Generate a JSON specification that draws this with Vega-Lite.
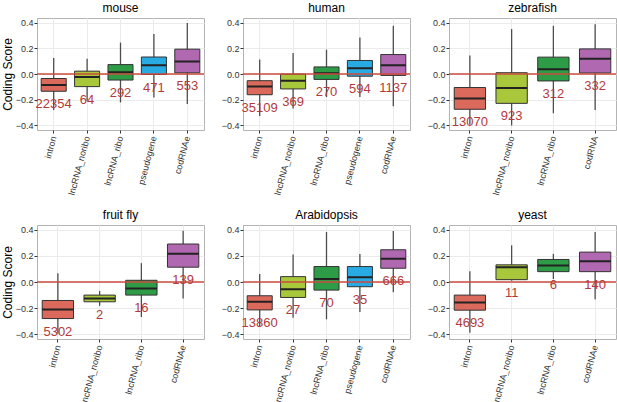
{
  "$schema": "https://vega.github.io/schema/vega-lite/v6.json",
  "description": "Coding score by transcript type, six species",
  "padding": {"left": 0, "top": 1, "right": 0, "bottom": 0},
  "background": "white",
  "config": {
    "font": "Liberation Sans",
    "view": {"stroke": "#b3b3b3", "strokeWidth": 1},
    "title": {"fontSize": 12, "fontWeight": "normal", "color": "black", "offset": 3},
    "axis": {
      "labelFontSize": 9,
      "labelColor": "#333333",
      "tickColor": "#333333",
      "tickSize": 3,
      "domain": false,
      "gridColor": "#ebebeb",
      "titleFontSize": 12,
      "titleFontWeight": "normal",
      "titleColor": "black"
    },
    "axisX": {"labelAngle": -75, "labelAlign": "right", "labelBaseline": "middle", "labelPadding": 3},
    "axisY": {"labelPadding": 1, "titlePadding": 1, "labelOverlap": false}
  },
  "data": {
    "values": [
      {"species": "mouse", "type": "intron", "lo": -0.28, "q1": -0.134, "med": -0.086, "q3": -0.035, "hi": 0.124, "n": "22354"},
      {"species": "mouse", "type": "lncRNA_noribo", "lo": -0.208, "q1": -0.098, "med": -0.024, "q3": 0.022, "hi": 0.119, "n": "64"},
      {"species": "mouse", "type": "lncRNA_ribo", "lo": -0.221, "q1": -0.047, "med": 0.014, "q3": 0.073, "hi": 0.244, "n": "292"},
      {"species": "mouse", "type": "pseudogene", "lo": -0.183, "q1": -0.004, "med": 0.068, "q3": 0.132, "hi": 0.311, "n": "471"},
      {"species": "mouse", "type": "codRNAe", "lo": -0.234, "q1": 0.009, "med": 0.098, "q3": 0.193, "hi": 0.397, "n": "553"},
      {"species": "human", "type": "intron", "lo": -0.326, "q1": -0.161, "med": -0.098, "q3": -0.052, "hi": 0.113, "n": "35109"},
      {"species": "human", "type": "lncRNA_noribo", "lo": -0.268, "q1": -0.116, "med": -0.052, "q3": -0.001, "hi": 0.164, "n": "369"},
      {"species": "human", "type": "lncRNA_ribo", "lo": -0.179, "q1": -0.042, "med": 0.006, "q3": 0.055, "hi": 0.189, "n": "270"},
      {"species": "human", "type": "pseudogene", "lo": -0.179, "q1": -0.017, "med": 0.044, "q3": 0.105, "hi": 0.283, "n": "594"},
      {"species": "human", "type": "codRNAe", "lo": -0.25, "q1": -0.011, "med": 0.067, "q3": 0.151, "hi": 0.375, "n": "1137"},
      {"species": "zebrafish", "type": "intron", "lo": -0.395, "q1": -0.274, "med": -0.19, "q3": -0.105, "hi": 0.144, "n": "13070"},
      {"species": "zebrafish", "type": "lncRNA_noribo", "lo": -0.4, "q1": -0.228, "med": -0.108, "q3": 0.01, "hi": 0.349, "n": "923"},
      {"species": "zebrafish", "type": "lncRNA_ribo", "lo": -0.305, "q1": -0.054, "med": 0.036, "q3": 0.131, "hi": 0.374, "n": "312"},
      {"species": "zebrafish", "type": "codRNA", "lo": -0.279, "q1": 0.008, "med": 0.118, "q3": 0.195, "hi": 0.387, "n": "332"},
      {"species": "fruit fly", "type": "intron", "lo": -0.395, "q1": -0.279, "med": -0.21, "q3": -0.141, "hi": 0.067, "n": "5302"},
      {"species": "fruit fly", "type": "lncRNA_noribo", "lo": -0.182, "q1": -0.151, "med": -0.126, "q3": -0.1, "hi": -0.069, "n": "2"},
      {"species": "fruit fly", "type": "lncRNA_ribo", "lo": -0.267, "q1": -0.1, "med": -0.049, "q3": 0.013, "hi": 0.144, "n": "16"},
      {"species": "fruit fly", "type": "codRNAe", "lo": -0.126, "q1": 0.113, "med": 0.215, "q3": 0.29, "hi": 0.392, "n": "139"},
      {"species": "Arabidopsis", "type": "intron", "lo": -0.336, "q1": -0.213, "med": -0.151, "q3": -0.105, "hi": 0.062, "n": "13860"},
      {"species": "Arabidopsis", "type": "lncRNA_noribo", "lo": -0.272, "q1": -0.118, "med": -0.056, "q3": 0.041, "hi": 0.21, "n": "27"},
      {"species": "Arabidopsis", "type": "lncRNA_ribo", "lo": -0.285, "q1": -0.062, "med": 0.023, "q3": 0.118, "hi": 0.382, "n": "70"},
      {"species": "Arabidopsis", "type": "pseudogene", "lo": -0.228, "q1": -0.036, "med": 0.036, "q3": 0.118, "hi": 0.213, "n": "35"},
      {"species": "Arabidopsis", "type": "codRNAe", "lo": -0.079, "q1": 0.105, "med": 0.177, "q3": 0.246, "hi": 0.39, "n": "666"},
      {"species": "yeast", "type": "intron", "lo": -0.387, "q1": -0.215, "med": -0.156, "q3": -0.1, "hi": 0.082, "n": "4693"},
      {"species": "yeast", "type": "lncRNA_noribo", "lo": 0.01, "q1": 0.018, "med": 0.113, "q3": 0.131, "hi": 0.28, "n": "11"},
      {"species": "yeast", "type": "lncRNA_ribo", "lo": 0.023, "q1": 0.079, "med": 0.126, "q3": 0.172, "hi": 0.215, "n": "6"},
      {"species": "yeast", "type": "codRNAe", "lo": -0.131, "q1": 0.079, "med": 0.159, "q3": 0.228, "hi": 0.382, "n": "140"}
    ]
  },
  "columns": 3,
  "bounds": "flush",
  "spacing": {"column": 39, "row": 95},
  "concat": [
    {
      "title": "mouse",
      "width": 167,
      "height": 112,
      "transform": [{"filter": "datum.species == 'mouse'"}],
      "layer": [
        {"mark": {"type": "rule", "color": "#4d4d4d", "strokeWidth": 1.3},
         "encoding": {"x": {"field": "type", "type": "nominal", "sort": null, "title": null, "axis": {"grid": true}},
                      "y": {"field": "lo", "type": "quantitative", "scale": {"domain": [-0.435, 0.435], "nice": false}, "axis": {"values": [-0.4, -0.2, 0, 0.2, 0.4], "format": ".1f", "title": "Coding Score"}},
                      "y2": {"field": "hi"}}},
        {"mark": {"type": "bar", "stroke": "#333333", "strokeWidth": 1, "width": {"band": 0.75}},
         "encoding": {"x": {"field": "type", "type": "nominal", "sort": null, "title": null, "axis": {"grid": true}},
                      "y": {"field": "q1", "type": "quantitative", "scale": {"domain": [-0.435, 0.435], "nice": false}, "axis": {"values": [-0.4, -0.2, 0, 0.2, 0.4], "format": ".1f", "title": "Coding Score"}}, "y2": {"field": "q3"},
                      "color": {"field": "type", "type": "nominal", "legend": null, "scale": {"domain": ["intron", "lncRNA_noribo", "lncRNA_ribo", "pseudogene", "codRNAe", "codRNA"], "range": ["#dc6a5c", "#a9c73a", "#2e9c47", "#2aaae2", "#b069b0", "#b069b0"]}}}},
        {"mark": {"type": "bar", "stroke": "#222222", "strokeWidth": 2, "width": {"band": 0.75}},
         "encoding": {"x": {"field": "type", "type": "nominal", "sort": null, "title": null, "axis": {"grid": true}},
                      "y": {"field": "med", "type": "quantitative", "scale": {"domain": [-0.435, 0.435], "nice": false}, "axis": {"values": [-0.4, -0.2, 0, 0.2, 0.4], "format": ".1f", "title": "Coding Score"}}, "y2": {"field": "med"}}},
        {"data": {"values": [{}]}, "mark": {"type": "rule", "color": "#cc4b3c", "strokeWidth": 1.3},
         "encoding": {"y": {"datum": 0, "type": "quantitative", "scale": {"domain": [-0.435, 0.435], "nice": false}, "axis": {"values": [-0.4, -0.2, 0, 0.2, 0.4], "format": ".1f", "title": "Coding Score"}}}},
        {"mark": {"type": "text", "color": "#b23a3a", "fontSize": 13, "baseline": "middle", "dy": 13},
         "encoding": {"x": {"field": "type", "type": "nominal", "sort": null, "title": null, "axis": {"grid": true}},
                      "y": {"field": "q1", "type": "quantitative", "scale": {"domain": [-0.435, 0.435], "nice": false}, "axis": {"values": [-0.4, -0.2, 0, 0.2, 0.4], "format": ".1f", "title": "Coding Score"}}, "text": {"field": "n"}}}
      ]
    },
    {
      "title": "human",
      "width": 167,
      "height": 112,
      "transform": [{"filter": "datum.species == 'human'"}],
      "layer": [
        {"mark": {"type": "rule", "color": "#4d4d4d", "strokeWidth": 1.3},
         "encoding": {"x": {"field": "type", "type": "nominal", "sort": null, "title": null, "axis": {"grid": true}},
                      "y": {"field": "lo", "type": "quantitative", "scale": {"domain": [-0.435, 0.435], "nice": false}, "axis": {"values": [-0.4, -0.2, 0, 0.2, 0.4], "format": ".1f", "title": null}},
                      "y2": {"field": "hi"}}},
        {"mark": {"type": "bar", "stroke": "#333333", "strokeWidth": 1, "width": {"band": 0.75}},
         "encoding": {"x": {"field": "type", "type": "nominal", "sort": null, "title": null, "axis": {"grid": true}},
                      "y": {"field": "q1", "type": "quantitative", "scale": {"domain": [-0.435, 0.435], "nice": false}, "axis": {"values": [-0.4, -0.2, 0, 0.2, 0.4], "format": ".1f", "title": null}}, "y2": {"field": "q3"},
                      "color": {"field": "type", "type": "nominal", "legend": null, "scale": {"domain": ["intron", "lncRNA_noribo", "lncRNA_ribo", "pseudogene", "codRNAe", "codRNA"], "range": ["#dc6a5c", "#a9c73a", "#2e9c47", "#2aaae2", "#b069b0", "#b069b0"]}}}},
        {"mark": {"type": "bar", "stroke": "#222222", "strokeWidth": 2, "width": {"band": 0.75}},
         "encoding": {"x": {"field": "type", "type": "nominal", "sort": null, "title": null, "axis": {"grid": true}},
                      "y": {"field": "med", "type": "quantitative", "scale": {"domain": [-0.435, 0.435], "nice": false}, "axis": {"values": [-0.4, -0.2, 0, 0.2, 0.4], "format": ".1f", "title": null}}, "y2": {"field": "med"}}},
        {"data": {"values": [{}]}, "mark": {"type": "rule", "color": "#cc4b3c", "strokeWidth": 1.3},
         "encoding": {"y": {"datum": 0, "type": "quantitative", "scale": {"domain": [-0.435, 0.435], "nice": false}, "axis": {"values": [-0.4, -0.2, 0, 0.2, 0.4], "format": ".1f", "title": null}}}},
        {"mark": {"type": "text", "color": "#b23a3a", "fontSize": 13, "baseline": "middle", "dy": 13},
         "encoding": {"x": {"field": "type", "type": "nominal", "sort": null, "title": null, "axis": {"grid": true}},
                      "y": {"field": "q1", "type": "quantitative", "scale": {"domain": [-0.435, 0.435], "nice": false}, "axis": {"values": [-0.4, -0.2, 0, 0.2, 0.4], "format": ".1f", "title": null}}, "text": {"field": "n"}}}
      ]
    },
    {
      "title": "zebrafish",
      "width": 167,
      "height": 112,
      "transform": [{"filter": "datum.species == 'zebrafish'"}],
      "layer": [
        {"mark": {"type": "rule", "color": "#4d4d4d", "strokeWidth": 1.3},
         "encoding": {"x": {"field": "type", "type": "nominal", "sort": null, "title": null, "axis": {"grid": true}},
                      "y": {"field": "lo", "type": "quantitative", "scale": {"domain": [-0.435, 0.435], "nice": false}, "axis": {"values": [-0.4, -0.2, 0, 0.2, 0.4], "format": ".1f", "title": null}},
                      "y2": {"field": "hi"}}},
        {"mark": {"type": "bar", "stroke": "#333333", "strokeWidth": 1, "width": {"band": 0.75}},
         "encoding": {"x": {"field": "type", "type": "nominal", "sort": null, "title": null, "axis": {"grid": true}},
                      "y": {"field": "q1", "type": "quantitative", "scale": {"domain": [-0.435, 0.435], "nice": false}, "axis": {"values": [-0.4, -0.2, 0, 0.2, 0.4], "format": ".1f", "title": null}}, "y2": {"field": "q3"},
                      "color": {"field": "type", "type": "nominal", "legend": null, "scale": {"domain": ["intron", "lncRNA_noribo", "lncRNA_ribo", "pseudogene", "codRNAe", "codRNA"], "range": ["#dc6a5c", "#a9c73a", "#2e9c47", "#2aaae2", "#b069b0", "#b069b0"]}}}},
        {"mark": {"type": "bar", "stroke": "#222222", "strokeWidth": 2, "width": {"band": 0.75}},
         "encoding": {"x": {"field": "type", "type": "nominal", "sort": null, "title": null, "axis": {"grid": true}},
                      "y": {"field": "med", "type": "quantitative", "scale": {"domain": [-0.435, 0.435], "nice": false}, "axis": {"values": [-0.4, -0.2, 0, 0.2, 0.4], "format": ".1f", "title": null}}, "y2": {"field": "med"}}},
        {"data": {"values": [{}]}, "mark": {"type": "rule", "color": "#cc4b3c", "strokeWidth": 1.3},
         "encoding": {"y": {"datum": 0, "type": "quantitative", "scale": {"domain": [-0.435, 0.435], "nice": false}, "axis": {"values": [-0.4, -0.2, 0, 0.2, 0.4], "format": ".1f", "title": null}}}},
        {"mark": {"type": "text", "color": "#b23a3a", "fontSize": 13, "baseline": "middle", "dy": 13},
         "encoding": {"x": {"field": "type", "type": "nominal", "sort": null, "title": null, "axis": {"grid": true}},
                      "y": {"field": "q1", "type": "quantitative", "scale": {"domain": [-0.435, 0.435], "nice": false}, "axis": {"values": [-0.4, -0.2, 0, 0.2, 0.4], "format": ".1f", "title": null}}, "text": {"field": "n"}}}
      ]
    },
    {
      "title": "fruit fly",
      "width": 167,
      "height": 114,
      "transform": [{"filter": "datum.species == 'fruit fly'"}],
      "layer": [
        {"mark": {"type": "rule", "color": "#4d4d4d", "strokeWidth": 1.3},
         "encoding": {"x": {"field": "type", "type": "nominal", "sort": null, "title": null, "axis": {"grid": true}},
                      "y": {"field": "lo", "type": "quantitative", "scale": {"domain": [-0.435, 0.435], "nice": false}, "axis": {"values": [-0.4, -0.2, 0, 0.2, 0.4], "format": ".1f", "title": "Coding Score"}},
                      "y2": {"field": "hi"}}},
        {"mark": {"type": "bar", "stroke": "#333333", "strokeWidth": 1, "width": {"band": 0.75}},
         "encoding": {"x": {"field": "type", "type": "nominal", "sort": null, "title": null, "axis": {"grid": true}},
                      "y": {"field": "q1", "type": "quantitative", "scale": {"domain": [-0.435, 0.435], "nice": false}, "axis": {"values": [-0.4, -0.2, 0, 0.2, 0.4], "format": ".1f", "title": "Coding Score"}}, "y2": {"field": "q3"},
                      "color": {"field": "type", "type": "nominal", "legend": null, "scale": {"domain": ["intron", "lncRNA_noribo", "lncRNA_ribo", "pseudogene", "codRNAe", "codRNA"], "range": ["#dc6a5c", "#a9c73a", "#2e9c47", "#2aaae2", "#b069b0", "#b069b0"]}}}},
        {"mark": {"type": "bar", "stroke": "#222222", "strokeWidth": 2, "width": {"band": 0.75}},
         "encoding": {"x": {"field": "type", "type": "nominal", "sort": null, "title": null, "axis": {"grid": true}},
                      "y": {"field": "med", "type": "quantitative", "scale": {"domain": [-0.435, 0.435], "nice": false}, "axis": {"values": [-0.4, -0.2, 0, 0.2, 0.4], "format": ".1f", "title": "Coding Score"}}, "y2": {"field": "med"}}},
        {"data": {"values": [{}]}, "mark": {"type": "rule", "color": "#cc4b3c", "strokeWidth": 1.3},
         "encoding": {"y": {"datum": 0, "type": "quantitative", "scale": {"domain": [-0.435, 0.435], "nice": false}, "axis": {"values": [-0.4, -0.2, 0, 0.2, 0.4], "format": ".1f", "title": "Coding Score"}}}},
        {"mark": {"type": "text", "color": "#b23a3a", "fontSize": 13, "baseline": "middle", "dy": 13},
         "encoding": {"x": {"field": "type", "type": "nominal", "sort": null, "title": null, "axis": {"grid": true}},
                      "y": {"field": "q1", "type": "quantitative", "scale": {"domain": [-0.435, 0.435], "nice": false}, "axis": {"values": [-0.4, -0.2, 0, 0.2, 0.4], "format": ".1f", "title": "Coding Score"}}, "text": {"field": "n"}}}
      ]
    },
    {
      "title": "Arabidopsis",
      "width": 167,
      "height": 114,
      "transform": [{"filter": "datum.species == 'Arabidopsis'"}],
      "layer": [
        {"mark": {"type": "rule", "color": "#4d4d4d", "strokeWidth": 1.3},
         "encoding": {"x": {"field": "type", "type": "nominal", "sort": null, "title": null, "axis": {"grid": true}},
                      "y": {"field": "lo", "type": "quantitative", "scale": {"domain": [-0.435, 0.435], "nice": false}, "axis": {"values": [-0.4, -0.2, 0, 0.2, 0.4], "format": ".1f", "title": null}},
                      "y2": {"field": "hi"}}},
        {"mark": {"type": "bar", "stroke": "#333333", "strokeWidth": 1, "width": {"band": 0.75}},
         "encoding": {"x": {"field": "type", "type": "nominal", "sort": null, "title": null, "axis": {"grid": true}},
                      "y": {"field": "q1", "type": "quantitative", "scale": {"domain": [-0.435, 0.435], "nice": false}, "axis": {"values": [-0.4, -0.2, 0, 0.2, 0.4], "format": ".1f", "title": null}}, "y2": {"field": "q3"},
                      "color": {"field": "type", "type": "nominal", "legend": null, "scale": {"domain": ["intron", "lncRNA_noribo", "lncRNA_ribo", "pseudogene", "codRNAe", "codRNA"], "range": ["#dc6a5c", "#a9c73a", "#2e9c47", "#2aaae2", "#b069b0", "#b069b0"]}}}},
        {"mark": {"type": "bar", "stroke": "#222222", "strokeWidth": 2, "width": {"band": 0.75}},
         "encoding": {"x": {"field": "type", "type": "nominal", "sort": null, "title": null, "axis": {"grid": true}},
                      "y": {"field": "med", "type": "quantitative", "scale": {"domain": [-0.435, 0.435], "nice": false}, "axis": {"values": [-0.4, -0.2, 0, 0.2, 0.4], "format": ".1f", "title": null}}, "y2": {"field": "med"}}},
        {"data": {"values": [{}]}, "mark": {"type": "rule", "color": "#cc4b3c", "strokeWidth": 1.3},
         "encoding": {"y": {"datum": 0, "type": "quantitative", "scale": {"domain": [-0.435, 0.435], "nice": false}, "axis": {"values": [-0.4, -0.2, 0, 0.2, 0.4], "format": ".1f", "title": null}}}},
        {"mark": {"type": "text", "color": "#b23a3a", "fontSize": 13, "baseline": "middle", "dy": 13},
         "encoding": {"x": {"field": "type", "type": "nominal", "sort": null, "title": null, "axis": {"grid": true}},
                      "y": {"field": "q1", "type": "quantitative", "scale": {"domain": [-0.435, 0.435], "nice": false}, "axis": {"values": [-0.4, -0.2, 0, 0.2, 0.4], "format": ".1f", "title": null}}, "text": {"field": "n"}}}
      ]
    },
    {
      "title": "yeast",
      "width": 167,
      "height": 114,
      "transform": [{"filter": "datum.species == 'yeast'"}],
      "layer": [
        {"mark": {"type": "rule", "color": "#4d4d4d", "strokeWidth": 1.3},
         "encoding": {"x": {"field": "type", "type": "nominal", "sort": null, "title": null, "axis": {"grid": true}},
                      "y": {"field": "lo", "type": "quantitative", "scale": {"domain": [-0.435, 0.435], "nice": false}, "axis": {"values": [-0.4, -0.2, 0, 0.2, 0.4], "format": ".1f", "title": null}},
                      "y2": {"field": "hi"}}},
        {"mark": {"type": "bar", "stroke": "#333333", "strokeWidth": 1, "width": {"band": 0.75}},
         "encoding": {"x": {"field": "type", "type": "nominal", "sort": null, "title": null, "axis": {"grid": true}},
                      "y": {"field": "q1", "type": "quantitative", "scale": {"domain": [-0.435, 0.435], "nice": false}, "axis": {"values": [-0.4, -0.2, 0, 0.2, 0.4], "format": ".1f", "title": null}}, "y2": {"field": "q3"},
                      "color": {"field": "type", "type": "nominal", "legend": null, "scale": {"domain": ["intron", "lncRNA_noribo", "lncRNA_ribo", "pseudogene", "codRNAe", "codRNA"], "range": ["#dc6a5c", "#a9c73a", "#2e9c47", "#2aaae2", "#b069b0", "#b069b0"]}}}},
        {"mark": {"type": "bar", "stroke": "#222222", "strokeWidth": 2, "width": {"band": 0.75}},
         "encoding": {"x": {"field": "type", "type": "nominal", "sort": null, "title": null, "axis": {"grid": true}},
                      "y": {"field": "med", "type": "quantitative", "scale": {"domain": [-0.435, 0.435], "nice": false}, "axis": {"values": [-0.4, -0.2, 0, 0.2, 0.4], "format": ".1f", "title": null}}, "y2": {"field": "med"}}},
        {"data": {"values": [{}]}, "mark": {"type": "rule", "color": "#cc4b3c", "strokeWidth": 1.3},
         "encoding": {"y": {"datum": 0, "type": "quantitative", "scale": {"domain": [-0.435, 0.435], "nice": false}, "axis": {"values": [-0.4, -0.2, 0, 0.2, 0.4], "format": ".1f", "title": null}}}},
        {"mark": {"type": "text", "color": "#b23a3a", "fontSize": 13, "baseline": "middle", "dy": 13},
         "encoding": {"x": {"field": "type", "type": "nominal", "sort": null, "title": null, "axis": {"grid": true}},
                      "y": {"field": "q1", "type": "quantitative", "scale": {"domain": [-0.435, 0.435], "nice": false}, "axis": {"values": [-0.4, -0.2, 0, 0.2, 0.4], "format": ".1f", "title": null}}, "text": {"field": "n"}}}
      ]
    }
  ]
}
